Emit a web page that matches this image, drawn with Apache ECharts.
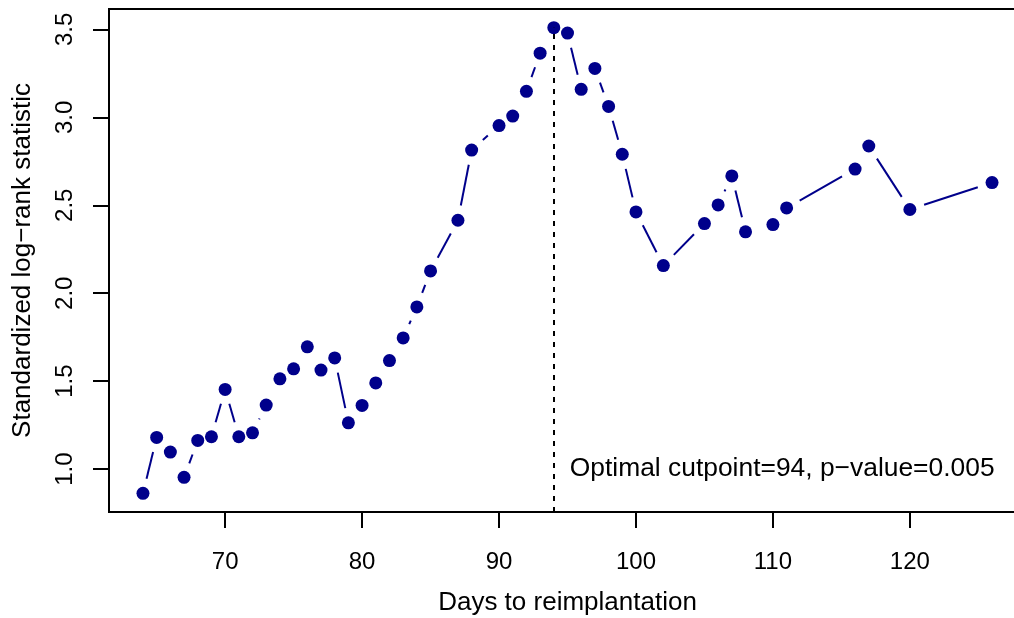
<!DOCTYPE html>
<html>
<head>
<meta charset="utf-8">
<script src="https://cdn.jsdelivr.net/npm/echarts@6/dist/echarts.min.js"></script>
<style>
  html, body { margin: 0; padding: 0; background: #fff; }
  #chart { width: 1014px; height: 618px; }
</style>
</head>
<body>
<div id="chart"></div>
<script>
// data
var days = [64, 65, 66, 67, 68, 69, 70, 71, 72, 73, 74, 75, 76, 77, 78, 79, 80, 81, 82, 83, 84, 85,
  87, 88, 90, 91, 92, 93, 94, 95, 96, 97, 98, 99, 100,
  102, 105, 106, 107, 108, 110, 111, 116, 117, 120, 126];
var stat = [0.862, 1.180, 1.097, 0.953, 1.163, 1.184, 1.453, 1.184, 1.206, 1.364, 1.513, 1.570, 1.695, 1.563, 1.632, 1.263, 1.362, 1.490, 1.617, 1.746, 1.922, 2.127,
  2.415, 2.814, 2.953, 3.007, 3.148, 3.365, 3.510, 3.479, 3.159, 3.278, 3.062, 2.790, 2.462,
  2.157, 2.396, 2.502, 2.667, 2.349, 2.390, 2.485, 2.706, 2.837, 2.476, 2.629];
var xTicks = [70, 80, 90, 100, 110, 120];
var yTicks = [1.0, 1.5, 2.0, 2.5, 3.0, 3.5];
var cutpoint = 94;
var cutStat = 3.510;
var note = 'Optimal cutpoint=94, p\u2212value=0.005';

var font = '"Liberation Sans", Arial, Helvetica, sans-serif';
var navy = '#00008B';

// R style axis range: data range padded by 4% each side
function pad(arr) {
  var lo = Math.min.apply(null, arr), hi = Math.max.apply(null, arr);
  var d = (hi - lo) * 0.04;
  return [lo - d, hi + d];
}
var xr = pad(days), yr = pad(stat);

var points = days.map(function (d, i) { return [d, stat[i]]; });
var segs = [];
for (var i = 0; i < days.length - 1; i++) {
  segs.push([days[i], stat[i], days[i + 1], stat[i + 1]]);
}

var chart = echarts.init(document.getElementById('chart'));

var GAP = 15; // type="b": line stops short of each point
function renderSeg(params, api) {
  var p0 = api.coord([api.value(0), api.value(1)]);
  var p1 = api.coord([api.value(2), api.value(3)]);
  var dx = p1[0] - p0[0], dy = p1[1] - p0[1];
  var len = Math.sqrt(dx * dx + dy * dy);
  if (len <= 2 * GAP) return null;
  var ux = dx / len, uy = dy / len;
  return {
    type: 'line',
    shape: {
      x1: p0[0] + ux * GAP, y1: p0[1] + uy * GAP,
      x2: p1[0] - ux * GAP, y2: p1[1] - uy * GAP
    },
    style: { stroke: navy, lineWidth: 2 }
  };
}

option = {
  animation: false,
  textStyle: { fontFamily: font },
  grid: {
    left: 109, top: 9, width: 917, height: 503,
    containLabel: false,
    outerBoundsMode: 'none',
    show: true, borderColor: '#000', borderWidth: 2, backgroundColor: 'transparent'
  },
  xAxis: {
    type: 'value',
    min: xr[0], max: xr[1],
    name: 'Days to reimplantation',
    nameLocation: 'middle',
    nameGap: 78,
    nameTextStyle: { fontSize: 26, color: '#000', fontFamily: font },
    axisLine: { show: true, lineStyle: { color: '#000', width: 2 } },
    axisTick: { show: true, length: 16, customValues: xTicks, lineStyle: { color: '#000', width: 2 } },
    axisLabel: { customValues: xTicks, margin: 38, fontSize: 24, color: '#000', fontFamily: font },
    splitLine: { show: false }
  },
  yAxis: {
    type: 'value',
    min: yr[0], max: yr[1],
    name: 'Standardized log\u2212rank statistic',
    nameLocation: 'middle',
    nameGap: 73,
    nameRotate: 90,
    nameTextStyle: { fontSize: 26, color: '#000', fontFamily: font },
    axisLine: { show: true, lineStyle: { color: '#000', width: 2 } },
    axisTick: { show: true, length: 16, customValues: yTicks, lineStyle: { color: '#000', width: 2 } },
    axisLabel: {
      customValues: yTicks, rotate: 90, margin: 32, fontSize: 24, color: '#000', fontFamily: font,
      formatter: function (v) { return v.toFixed(1); }
    },
    splitLine: { show: false }
  },
  series: [
    {
      type: 'custom',
      renderItem: renderSeg,
      encode: { x: [0, 2], y: [1, 3] },
      data: segs,
      z: 2
    },
    {
      type: 'scatter',
      data: points,
      symbol: 'circle',
      symbolSize: 13,
      itemStyle: { color: navy, opacity: 1 },
      z: 3,
      markLine: {
        silent: true,
        symbol: 'none',
        label: { show: false },
        lineStyle: { color: '#000', width: 2, type: [5, 6] },
        data: [[{ coord: [cutpoint, yr[0]] }, { coord: [cutpoint, cutStat] }]],
        z: 5
      },
      markPoint: {
        silent: true,
        symbol: 'circle',
        symbolSize: 0,
        data: [{ coord: [cutpoint, 1.0], value: note }],
        label: {
          show: true, position: 'right', distance: 16,
          formatter: note, fontSize: 26.4, color: '#000', fontFamily: font
        }
      }
    }
  ]
};
chart.setOption(option);
</script>
</body>
</html>
